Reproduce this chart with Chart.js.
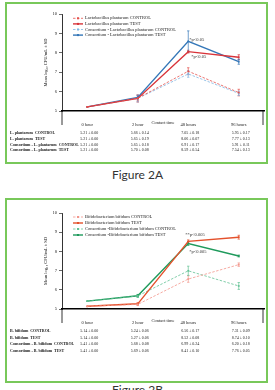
<!DOCTYPE html>
<html>
<head>
<meta charset="utf-8">
<script src="https://cdn.jsdelivr.net/npm/chart.js@4.4.1/dist/chart.umd.min.js"></script>
<style>
  html, body { margin: 0; padding: 0; background: #fff; }
  body { width: 275px; height: 390px; position: relative; overflow: hidden; }
  .box { position: absolute; left: 5px; width: 263px; border: 2px solid #78c85a; box-sizing: border-box; }
  #boxA { top: 2px; height: 162px; }
  #boxB { top: 198px; height: 185px; }
  canvas { position: absolute; left: 0; }
  #chartA { top: 0; }
  #chartB { top: 197px; }
  .caption { position: absolute; left: 0; width: 275px; text-align: center; font-family: Lato, sans-serif; font-size: 12px; color: #333; }
</style>
</head>
<body>
<div class="box" id="boxA"></div>
<div class="box" id="boxB"></div>
<canvas id="chartA" width="275" height="165"></canvas>
<canvas id="chartB" width="275" height="185"></canvas>
<div class="caption" style="top:167px">Figure 2A</div>
<div class="caption" style="top:382px">Figure 2B</div>
<script>
const times = ['0 hour', '2 hour', '48 hours', '96 hours'];
const yTicks = [5, 6, 7, 8, 9, 10];

// Figure 2A - L. plantarum (mean log10 CFU/mL and SD)
const lpControl = [5.21, 5.66, 7.05, 5.95];
const lpControlSd = [0.00, 0.14, 0.18, 0.17];
const lpTest = [5.21, 5.65, 8.06, 7.77];
const lpTestSd = [0.00, 0.19, 0.07, 0.13];
const consLpControl = [5.21, 5.65, 6.91, 5.91];
const consLpControlSd = [0.00, 0.18, 0.17, 0.11];
const consLpTest = [5.21, 5.70, 8.59, 7.54];
const consLpTestSd = [0.00, 0.08, 0.54, 0.13];
const rowsA = ['L. plantarum  CONTROL', 'L. plantarum  TEST', 'Consortium - L. plantarum  CONTROL', 'Consortium - L. plantarum  TEST'];

// Figure 2B - B. bifidum
const bbControl = [5.14, 5.24, 6.56, 7.31];
const bbControlSd = [0.00, 0.06, 0.17, 0.09];
const bbTest = [5.14, 5.27, 8.52, 8.74];
const bbTestSd = [0.00, 0.06, 0.08, 0.10];
const consBbControl = [5.41, 5.68, 6.99, 6.20];
const consBbControlSd = [0.00, 0.08, 0.24, 0.18];
const consBbTest = [5.41, 5.69, 8.41, 7.76];
const consBbTestSd = [0.00, 0.06, 0.10, 0.05];
const rowsB = ['B. bifidum  CONTROL', 'B. bifidum  TEST', 'Consortium - B. bifidum  CONTROL', 'Consortium - B. bifidum  TEST'];

const serif = '"Liberation Serif", serif';

function series(label, data, sd, color, dashed) {
  return {
    label: label, data: data, sd: sd,
    borderColor: color, backgroundColor: color,
    borderWidth: dashed ? 0.8 : 1.4,
    borderDash: dashed ? [2.5, 1.5] : [],
    pointRadius: 1.2, pointStyle: 'rect', pointBorderWidth: 0,
    tension: 0
  };
}

// error bars, legend, notes, axis title and data table
const extras = {
  id: 'extras',
  beforeDatasetsDraw(chart) {
    const ctx = chart.ctx, xs = chart.scales.x, ys = chart.scales.y;
    ctx.save();
    chart.data.datasets.forEach(ds => {
      ctx.strokeStyle = ds.borderColor;
      ctx.lineWidth = 0.7;
      ds.sd.forEach((s, j) => {
        if (!s) return;
        const x = xs.getPixelForValue(j);
        const y1 = ys.getPixelForValue(ds.data[j] + s), y2 = ys.getPixelForValue(ds.data[j] - s);
        ctx.beginPath();
        ctx.moveTo(x, y1); ctx.lineTo(x, y2);
        ctx.moveTo(x - 1.2, y1); ctx.lineTo(x + 1.2, y1);
        ctx.moveTo(x - 1.2, y2); ctx.lineTo(x + 1.2, y2);
        ctx.stroke();
      });
    });
    ctx.restore();
  },
  afterDraw(chart, args, o) {
    const ctx = chart.ctx, area = chart.chartArea, xs = chart.scales.x, ys = chart.scales.y;
    ctx.save();
    // legend inside plot
    ctx.font = '4.5px ' + serif;
    ctx.textBaseline = 'middle';
    chart.data.datasets.forEach((ds, i) => {
      const y = area.top + o.legendTop + i * o.legendStep;
      const x0 = area.left + 11;
      ctx.strokeStyle = ds.borderColor;
      ctx.lineWidth = ds.borderWidth;
      ctx.setLineDash(ds.borderDash);
      ctx.beginPath(); ctx.moveTo(x0, y); ctx.lineTo(x0 + 10, y); ctx.stroke();
      ctx.setLineDash([]);
      ctx.fillStyle = ds.borderColor;
      ctx.fillRect(x0 + 4, y - 1, 2, 2);
      ctx.fillStyle = '#222';
      ctx.textAlign = 'left';
      ctx.fillText(ds.label, x0 + 12, y);
    });
    // significance notes
    o.notes.forEach(n => {
      const ds = chart.data.datasets[n.ds];
      ctx.fillStyle = '#333';
      ctx.fillText(n.text, xs.getPixelForValue(n.idx) + n.dx, ys.getPixelForValue(ds.data[n.idx]) + n.dy);
    });
    // x title
    ctx.textAlign = 'center';
    ctx.fillStyle = '#222';
    ctx.fillText('Contact time', (area.left + area.right) / 2, area.bottom + 12);
    // table borders
    ctx.strokeStyle = '#000';
    ctx.lineWidth = 0.8;
    ctx.beginPath();
    ctx.moveTo(area.left, area.bottom); ctx.lineTo(area.left, area.bottom + 14);
    ctx.moveTo(area.right - 1, area.bottom); ctx.lineTo(area.right - 1, area.bottom + 14);
    ctx.stroke();
    // data table
    chart.data.datasets.forEach((ds, i) => {
      const ty = area.bottom + o.tableTop + i * o.rowStep;
      ctx.font = 'bold 4px ' + serif;
      ctx.textAlign = 'left';
      ctx.fillText(o.rows[i], 10, ty);
      ctx.font = '4px ' + serif;
      ctx.textAlign = 'center';
      ds.data.forEach((v, j) => {
        ctx.fillText(v.toFixed(2) + ' ± ' + ds.sd[j].toFixed(2), xs.getPixelForValue(j) + 2, ty);
      });
    });
    ctx.restore();
  }
};

function makeChart(id, datasets, xHeight, top, extra) {
  return new Chart(document.getElementById(id), {
    type: 'line',
    data: { labels: times, datasets: datasets },
    plugins: [extras],
    options: {
      responsive: false,
      animation: false,
      layout: { padding: { left: 43, right: 11, top: top, bottom: 0 } },
      plugins: { legend: { display: false }, tooltip: { enabled: false }, extras: extra },
      scales: {
        x: {
          offset: true,
          grid: { display: false },
          border: { display: true, color: '#000', width: 1.5 },
          ticks: { font: { family: serif, size: 4.5 }, color: '#222', padding: 3 },
          afterFit(s) { s.height = xHeight; }
        },
        y: {
          min: yTicks[0], max: yTicks[yTicks.length - 1],
          ticks: { stepSize: 1, font: { family: serif, size: 4.5 }, color: '#222', padding: 2 },
          grid: { drawOnChartArea: false, tickLength: 3, color: '#000', lineWidth: 0.6 },
          border: { display: true, color: '#000', width: 0.8 },
          title: { display: true, text: 'Mean log\u2081\u2080 CFU/mL ± SD', font: { family: serif, size: 4.5 }, color: '#222', padding: 0 },
          afterFit(s) { s.width = 19; }
        }
      }
    }
  });
}

makeChart('chartA', [
  series('Lactobacillus plantarum CONTROL', lpControl, lpControlSd, '#e4504c', true),
  series('Lactobacillus plantarum TEST', lpTest, lpTestSd, '#d8343a', false),
  series('Consortium - Lactobacillus plantarum CONTROL', consLpControl, consLpControlSd, '#7fb6e2', true),
  series('Consortium - Lactobacillus plantarum TEST', consLpTest, consLpTestSd, '#3477b8', false)
], 54, 14, {
  legendTop: 4.3, legendStep: 5.6, tableTop: 22, rowStep: 5.8, rows: rowsA,
  notes: [
    { text: '*p<0.05', ds: 3, idx: 2, dx: 1, dy: -2 },
    { text: '*p<0.05', ds: 1, idx: 2, dx: 3, dy: 5 }
  ]
});

makeChart('chartB', [
  series('Bifidobacterium bifidum CONTROL', bbControl, bbControlSd, '#f2968c', true),
  series('Bifidobacterium bifidum TEST', bbTest, bbTestSd, '#e4512c', false),
  series('Consortium -Bifidobacterium bifidum CONTROL', consBbControl, consBbControlSd, '#62c294', true),
  series('Consortium -Bifidobacterium bifidum TEST', consBbTest, consBbTestSd, '#1f9a5c', false)
], 73, 16, {
  legendTop: 4, legendStep: 6, tableTop: 22, rowStep: 6.7, rows: rowsB,
  notes: [
    { text: '**p<0.005', ds: 1, idx: 2, dx: -3, dy: -7 },
    { text: '*p<0.005', ds: 3, idx: 2, dx: 1, dy: 8 }
  ]
});
</script>
</body>
</html>
